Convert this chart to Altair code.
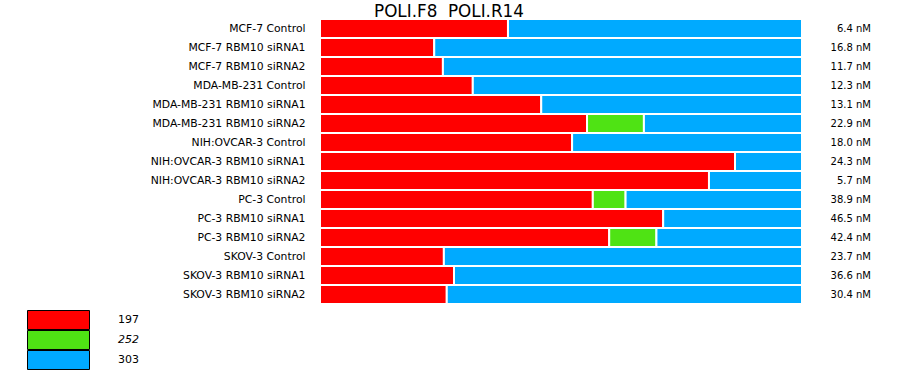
import altair as alt
import pandas as pd

samples = [
    "MCF-7 Control", "MCF-7 RBM10 siRNA1", "MCF-7 RBM10 siRNA2",
    "MDA-MB-231 Control", "MDA-MB-231 RBM10 siRNA1", "MDA-MB-231 RBM10 siRNA2",
    "NIH:OVCAR-3 Control", "NIH:OVCAR-3 RBM10 siRNA1", "NIH:OVCAR-3 RBM10 siRNA2",
    "PC-3 Control", "PC-3 RBM10 siRNA1", "PC-3 RBM10 siRNA2",
    "SKOV-3 Control", "SKOV-3 RBM10 siRNA1", "SKOV-3 RBM10 siRNA2",
]
# share (%) of each fragment size per sample
frag_197 = [39.0, 23.7, 25.5, 31.7, 45.9, 55.4, 52.3, 86.1, 80.7, 56.6, 71.2, 60.0, 25.7, 27.8, 26.3]
frag_252 = [0.0, 0.0, 0.0, 0.0, 0.0, 11.8, 0.0, 0.0, 0.0, 6.8, 0.0, 9.8, 0.0, 0.0, 0.0]
frag_303 = [61.0, 76.3, 74.5, 68.3, 54.1, 32.8, 47.7, 13.9, 19.3, 36.6, 28.8, 30.2, 74.3, 72.2, 73.7]
conc = ["6.4 nM", "16.8 nM", "11.7 nM", "12.3 nM", "13.1 nM", "22.9 nM", "18.0 nM", "24.3 nM",
        "5.7 nM", "38.9 nM", "46.5 nM", "42.4 nM", "23.7 nM", "36.6 nM", "30.4 nM"]

sizes = ["197", "252", "303"]
colors = ["#ff0000", "#4fe314", "#00aaff"]

rows = []
for i, s in enumerate(samples):
    for k, (lab, vals) in enumerate(zip(sizes, [frag_197, frag_252, frag_303])):
        if vals[i] > 0:
            rows.append({"sample": s, "size": lab, "order": k, "value": vals[i]})
bars_df = pd.DataFrame(rows)
conc_df = pd.DataFrame({"sample": samples, "conc": conc})

FONT = "DejaVu Sans"

y_enc = alt.Y("sample:N", sort=samples,
              scale=alt.Scale(paddingInner=0, paddingOuter=0),
              axis=alt.Axis(title=None, domain=False, ticks=False, labelPadding=15,
                            labelFont=FONT, labelFontSize=10.8, labelColor="black",
                            labelLimit=300))

bars = alt.Chart(bars_df).mark_bar(stroke="white", strokeWidth=2, opacity=1).encode(
    y=y_enc,
    x=alt.X("value:Q", stack="zero", scale=alt.Scale(domain=[0, 100], nice=False), axis=None),
    color=alt.Color("size:N", scale=alt.Scale(domain=sizes, range=colors),
                    legend=alt.Legend(title=None, orient="none", legendX=-293, legendY=291,
                                      symbolType="M-1,-0.306H1V0.306H-1Z", symbolSize=3844,
                                      symbolStrokeColor="black", symbolStrokeWidth=1,
                                      symbolOpacity=1, clipHeight=20,
                                      rowPadding=0, labelOffset=28,
                                      labelFont=FONT, labelFontSize=11, labelColor="black",
                                      labelFontStyle=alt.ExprRef("datum.label == '252' ? 'italic' : 'normal'"))),
    order=alt.Order("order:Q"),
)

values = alt.Chart(conc_df).mark_text(align="right", baseline="middle", font=FONT,
                                      fontSize=10, color="black").encode(
    y=alt.Y("sample:N", sort=samples),
    x=alt.value(551),
    text="conc:N",
)

chart = alt.layer(bars, values).properties(
    width=482, height=285,
    title=alt.TitleParams("POLI.F8\u00a0 POLI.R14", font=FONT, fontSize=16.8, fontWeight="normal",
                          color="black", anchor="middle", dx=-112, dy=16, offset=0,
                          baseline="alphabetic"),
    autosize=alt.AutoSizeParams(type="none"),
    padding={"left": 320, "top": 19, "right": 98, "bottom": 71},
).configure_view(stroke=None).configure(background="white")

chart.save("out.html", embed_options={"renderer": "svg", "actions": False})
